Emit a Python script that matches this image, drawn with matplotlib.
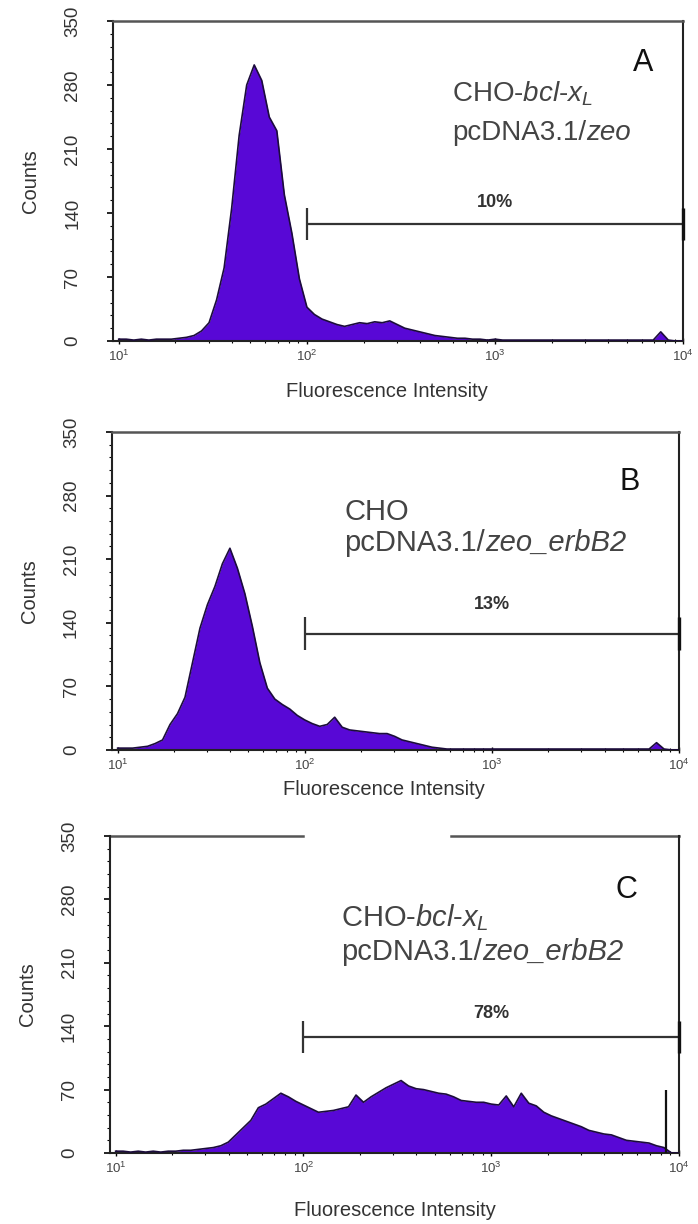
#!/usr/bin/env python3
"""Flow cytometry histograms, three stacked panels (A, B, C)."""

import matplotlib

matplotlib.use("Agg")
import matplotlib.pyplot as plt
import numpy as np
from matplotlib.ticker import LogLocator, MultipleLocator, NullFormatter

plt.rcParams["font.family"] = ["Liberation Sans", "DejaVu Sans"]
plt.rcParams["mathtext.fontset"] = "custom"
plt.rcParams["mathtext.rm"] = "Liberation Sans"
plt.rcParams["mathtext.it"] = "Liberation Sans:italic"
plt.rcParams["mathtext.bf"] = "Liberation Sans:bold"

# channel grid, log10 of fluorescence intensity (1.00 .. 4.00, step 0.04)
LOG_CHANNELS = np.linspace(1.0, 4.0, 76)

# counts per channel
A_COUNTS = [2, 2, 1, 2, 1, 2, 2, 2, 3, 4,
            6, 11, 20, 45, 80, 145, 225, 280, 302, 285,
            245, 230, 160, 118, 68, 37, 29, 24, 21, 18,
            16, 18, 20, 19, 21, 20, 22, 18, 14, 12,
            10, 8, 6, 5, 4, 3, 3, 2, 2, 1,
            2, 1, 1, 1, 1, 1, 1, 1, 1, 1,
            1, 1, 1, 1, 1, 1, 1, 1, 1, 1,
            1, 1, 10, 1, 0, 0]
B_COUNTS = [2, 2, 2, 3, 4, 7, 11, 28, 40, 58,
            96, 134, 160, 180, 205, 222, 200, 172, 136, 96,
            68, 56, 50, 45, 38, 33, 29, 26, 28, 36,
            25, 22, 21, 20, 19, 18, 18, 15, 11, 9,
            7, 5, 3, 2, 1, 1, 1, 1, 1, 1,
            1, 1, 1, 1, 1, 1, 1, 1, 1, 1,
            1, 1, 1, 1, 1, 1, 1, 1, 1, 1,
            1, 1, 8, 1, 0, 0]
C_COUNTS = [2, 2, 1, 2, 1, 2, 1, 2, 2, 3,
            3, 4, 5, 6, 8, 12, 20, 28, 36, 50,
            54, 60, 66, 62, 57, 53, 49, 45, 46, 47,
            49, 51, 64, 56, 62, 67, 72, 76, 80, 74,
            71, 70, 68, 66, 65, 62, 58, 57, 56, 56,
            54, 53, 63, 51, 66, 55, 52, 45, 41, 38,
            35, 32, 29, 25, 23, 21, 20, 17, 14, 13,
            12, 11, 8, 6, 0, 0]
C_SPIKE_LOG = 3.93
C_SPIKE_COUNT = 70

GATE = (100, 10000)
GATE_LEVEL = 128
GATE_PCT = ["10%", "13%", "78%"]
LETTERS = ["A", "B", "C"]
LINE1 = [r"CHO-$\mathit{bcl}$-$\mathit{x}_{\mathit{L}}$",
         "CHO",
         r"CHO-$\mathit{bcl}$-$\mathit{x}_{\mathit{L}}$"]
LINE2_ROMAN = ["pcDNA3.1/", "pcDNA3.1/", "pcDNA3.1/"]
LINE2_ITALIC = ["zeo", "zeo_erbB2", "zeo_erbB2"]
Y_TICKS = [0, 70, 140, 210, 280, 350]

FILL = "#5808d6"
EDGE = "#1c0c3c"

# layout: [left, bottom, width, height] in figure fraction
BOXES = [[0.162, 0.7214, 0.817, 0.2614],
         [0.1605, 0.3873, 0.8123, 0.2598],
         [0.1576, 0.0580, 0.8152, 0.2590]]
TEXT_POS = [  # letter (log x, y), line1 (log x, y), line2 y, pct y, text size
    ((3.84, 304), (2.77, 271), 228, 152, 20),
    ((3.79, 295), (2.21, 262), 228, 160, 21),
    ((3.78, 290), (2.20, 260), 222, 154, 21),
]
XLABEL_Y = [-0.128, -0.095, -0.15]
XLABEL_X = [0.48, 0.48, 0.50]


def draw_panel(ax, i, counts):
    x = 10 ** LOG_CHANNELS
    ax.fill_between(x, counts, 0, color=FILL, linewidth=0, zorder=2)
    ax.plot(x, counts, color=EDGE, lw=1.2, zorder=3)

    ax.set_xscale("log")
    ax.set_xlim(10 ** 0.97, 10 ** 4)
    ax.set_ylim(0, 350)
    ax.set_yticks(Y_TICKS)
    ax.yaxis.set_minor_locator(MultipleLocator(14))
    ax.xaxis.set_major_locator(LogLocator(base=10, numticks=6))
    ax.xaxis.set_minor_locator(LogLocator(base=10, subs=np.arange(2, 10), numticks=20))
    ax.xaxis.set_minor_formatter(NullFormatter())

    ax.tick_params(axis="y", which="major", direction="out", length=4, width=1.2,
                   pad=19, labelsize=13.5, labelcolor="#333", labelrotation=90)
    for lbl in ax.get_yticklabels():
        lbl.set_va("center")
    ax.tick_params(axis="y", which="minor", direction="out", length=2, width=0.8)
    ax.tick_params(axis="x", which="major", direction="inout", length=5, width=1.0,
                   pad=3, labelsize=9.5, labelcolor="#444")
    ax.tick_params(axis="x", which="minor", direction="inout", length=3, width=0.8)

    for side in ("left", "bottom", "right"):
        ax.spines[side].set_color("#222")
        ax.spines[side].set_linewidth(1.5)
    ax.spines["top"].set_color("#555")
    ax.spines["top"].set_linewidth(1.8)

    ax.set_ylabel("Counts", fontsize=14.5, color="#333")
    ax.yaxis.set_label_coords(-0.128, 0.5)
    ax.set_xlabel("Fluorescence Intensity", fontsize=14.5, color="#333")
    ax.xaxis.set_label_coords(XLABEL_X[i], XLABEL_Y[i])

    # gate marker
    ax.hlines(GATE_LEVEL, GATE[0], GATE[1], color="#333", lw=1.6, zorder=4)
    ax.vlines(GATE[0], GATE_LEVEL - 18, GATE_LEVEL + 18, color="#333", lw=1.6, zorder=4)
    ax.vlines(GATE[1], GATE_LEVEL - 18, GATE_LEVEL + 18, color="#111", lw=2.4, zorder=4,
              clip_on=False)

    (lx, ly), (tx, ty), y2, py, size = TEXT_POS[i]
    ax.text(10 ** lx, ly, LETTERS[i], fontsize=22, color="#111", ha="right", va="center")
    ax.text(10 ** tx, ty, LINE1[i], fontsize=size, color="#444", ha="left", va="center")
    roman = ax.text(10 ** tx, y2, LINE2_ROMAN[i], fontsize=size, color="#444",
                    ha="left", va="center")
    ax.annotate(LINE2_ITALIC[i], xy=(1, 0), xycoords=roman, fontsize=size,
                color="#444", fontstyle="italic", ha="left", va="bottom")
    ax.text(1000, py, GATE_PCT[i], fontsize=13, fontweight="bold", color="#333",
            ha="center", va="center")


def main():
    fig = plt.figure(figsize=(6.98, 12.24), dpi=100)
    fig.patch.set_facecolor("white")
    all_counts = [A_COUNTS, B_COUNTS, C_COUNTS]
    axes = []
    for i, counts in enumerate(all_counts):
        assert len(counts) == len(LOG_CHANNELS)
        ax = fig.add_axes(BOXES[i])
        draw_panel(ax, i, counts)
        axes.append(ax)

    # sharp event spike near the top channel in panel C
    axes[2].vlines(10 ** C_SPIKE_LOG, 0, C_SPIKE_COUNT, color="#111", lw=1.6, zorder=4)

    # panel C top border is broken where panel B's label sits
    axc = axes[2]
    axc.spines["top"].set_visible(False)
    axc.axhline(350, xmin=0.0, xmax=0.34, color="#555", lw=1.8, clip_on=False)
    axc.axhline(350, xmin=0.60, xmax=1.0, color="#555", lw=1.8, clip_on=False)

    fig.savefig("out.png", dpi=100)


if __name__ == "__main__":
    main()
